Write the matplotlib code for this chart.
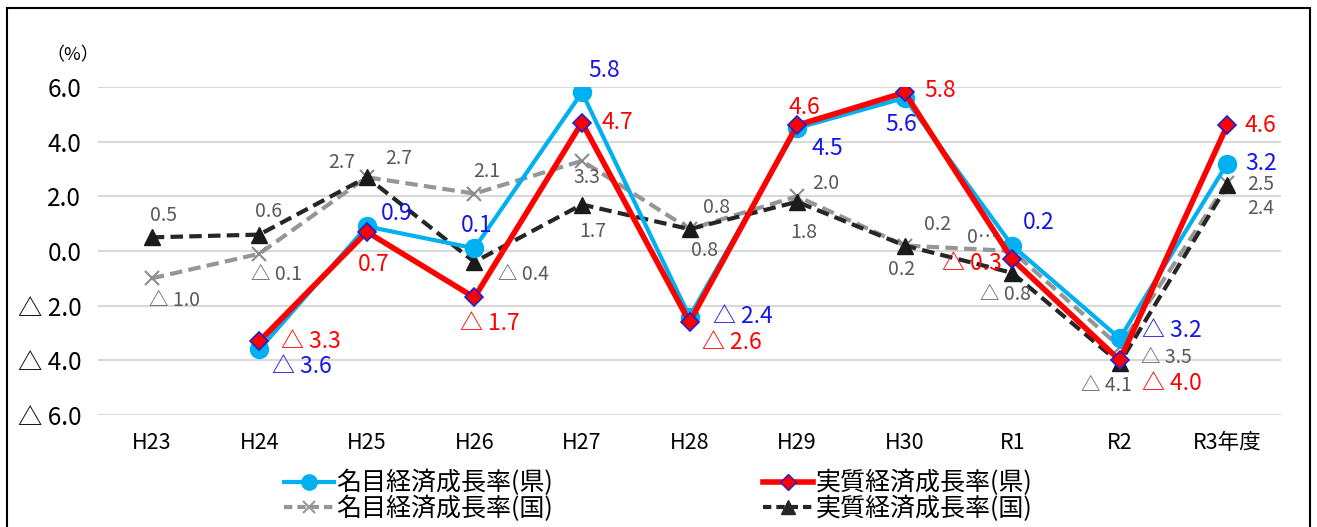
import numpy as np
import matplotlib.pyplot as plt
from matplotlib.lines import Line2D
from matplotlib.patches import Rectangle

plt.rcParams['font.family'] = ['Noto Sans CJK JP', 'DejaVu Sans']

categories = ['H23', 'H24', 'H25', 'H26', 'H27', 'H28', 'H29', 'H30', 'R1', 'R2', 'R3年度']
nominal_pref = [np.nan, -3.6, 0.9, 0.1, 5.8, -2.4, 4.5, 5.6, 0.2, -3.2, 3.2]
real_pref = [np.nan, -3.3, 0.7, -1.7, 4.7, -2.6, 4.6, 5.8, -0.3, -4.0, 4.6]
nominal_nat = [-1.0, -0.1, 2.7, 2.1, 3.3, 0.8, 2.0, 0.2, 0.0, -3.5, 2.5]
real_nat = [0.5, 0.6, 2.7, -0.4, 1.7, 0.8, 1.8, 0.2, -0.8, -4.1, 2.4]
yticks = [6, 4, 2, 0, -2, -4, -6]

# label offsets in pixels (dx, dy), one per category
off_nominal_pref = [None, (43, -17), (30, 13), (2, 23), (22, 22), (53, 0), (30, -20),
                    (-3, -27), (27, 23), (52, 8), (34, 0)]
off_real_pref = [None, (52, 0), (7, -33), (15, -26), (35, 0), (42, -20), (7, 18),
                 (36, 2), (-40, -4), (52, -23), (33, 0)]
off_nominal_nat = [(23, -22), (17, -21), (32, 19), (12, 22), (5, -17), (27, 22), (29, 13),
                   (33, 21), (-30, 14), (47, -11), (33, -2)]
off_real_nat = [(12, 22), (9, 23), (-25, 15), (49, -13), (11, -27), (15, -21), (7, -31),
                (-3, -24), (-7, -22), (-13, -22), (33, -23)]


def fmt(v):
    if v < 0:
        return '△ %.1f' % abs(v)
    return '%.1f' % v


fig = plt.figure(figsize=(13.17, 5.27), dpi=100)
ax = fig.add_axes([0.0744, 0.2125, 0.8983, 0.6224])
x = np.arange(len(categories))

ax.plot(x, nominal_nat, color='#969696', lw=3, ls=(0, (3, 1.5)), marker='x',
        ms=10, mew=1.5, mec='#8c8c8c', zorder=3)
ax.plot(x, real_nat, color='#262626', lw=3, ls=(0, (3, 1.5)), marker='^',
        ms=11, mfc='#1a1a1a', mec='#1a1a1a', zorder=4)
ax.plot(x, nominal_pref, color='#00B0F0', lw=3, marker='o', ms=13,
        mfc='#00B0F0', mec='#00B0F0', zorder=5)
ax.plot(x, real_pref, color='#FF0000', lw=4, marker='D', ms=9,
        mfc='#FF0000', mec='#2020D0', mew=1.2, zorder=6)

series = [
    (nominal_nat, off_nominal_nat, '#595959', 14, '0…'),
    (real_nat, off_real_nat, '#595959', 14, None),
    (nominal_pref, off_nominal_pref, '#1515E6', 16.5, None),
    (real_pref, off_real_pref, '#FF0000', 16.5, None),
]
for vals, offs, col, fs, zero_txt in series:
    for i, v in enumerate(vals):
        if offs[i] is None or np.isnan(v):
            continue
        txt = fmt(v)
        if zero_txt is not None and v == 0:
            txt = zero_txt
        ax.annotate(txt, (i, v), xytext=offs[i], textcoords='offset pixels',
                    ha='center', va='center', color=col, fontsize=fs,
                    annotation_clip=False, zorder=8)

ax.set_xlim(-0.5, len(categories) - 0.5)
ax.set_ylim(-6, 6)
ax.set_yticks(yticks)
ax.set_yticklabels([fmt(t) for t in yticks], fontsize=17.5)
ax.set_xticks(x)
ax.set_xticklabels(categories, fontsize=15.5)
ax.tick_params(axis='y', length=0, pad=12)
ax.tick_params(axis='x', length=0, pad=12)
ax.grid(axis='y', color='#d9d9d9', lw=1.5)
ax.set_axisbelow(True)
for s in ax.spines.values():
    s.set_visible(False)

fig.text(0.055, 0.896, '（%）', fontsize=13, ha='center', va='center')

handles = [
    Line2D([], [], color='#00B0F0', lw=3, marker='o', ms=11, mec='#00B0F0'),
    Line2D([], [], color='#969696', lw=3, ls=(0, (2, 1.2)), marker='x', ms=9, mew=1.5),
    Line2D([], [], color='#FF0000', lw=4, marker='D', ms=8, mfc='#FF0000', mec='#2020D0'),
    Line2D([], [], color='#262626', lw=3, ls=(0, (2, 1.2)), marker='^', ms=10),
]
labels = ['名目経済成長率(県)', '名目経済成長率(国)', '実質経済成長率(県)', '実質経済成長率(国)']
fig.legend(handles, labels, loc='center', bbox_to_anchor=(0.4996, 0.059), ncol=2,
           frameon=False, fontsize=18, handlelength=2.0, handletextpad=0.1,
           columnspacing=8.4, labelspacing=-0.05, borderpad=0)

fig.patches.append(Rectangle((0.005, -0.01), 0.99, 0.995, transform=fig.transFigure,
                             fill=False, ec='black', lw=1.5))

fig.savefig('out.png', dpi=100)
